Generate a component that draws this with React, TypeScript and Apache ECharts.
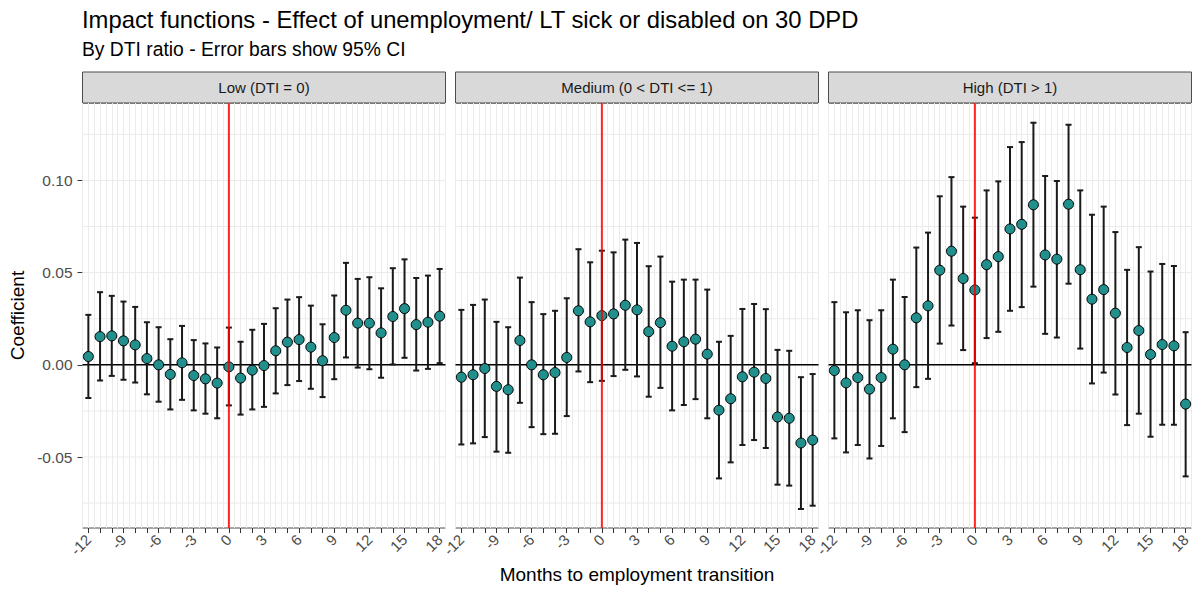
import React, { useEffect, useRef } from 'react';
import * as echarts from 'echarts';

// ---- data ----
const months = [-12, -11, -10, -9, -8, -7, -6, -5, -4, -3, -2, -1, 0, 1, 2, 3, 4, 5, 6, 7, 8, 9, 10, 11, 12, 13, 14, 15, 16, 17, 18];
const monthLabels = [-12, -9, -6, -3, 0, 3, 6, 9, 12, 15, 18];
const yLabels = [-0.05, 0, 0.05, 0.1];
const yGridBreaks = [-0.075, -0.05, -0.025, 0, 0.025, 0.05, 0.075, 0.1, 0.125];
const zeroLine = [0];
const eventMonth = [0];
const panelNames = ['Low (DTI = 0)', 'Medium (0 < DTI <= 1)', 'High (DTI > 1)'];

const lowEst = [0.0045, 0.0153, 0.0157, 0.013, 0.0108, 0.0034, 0.0, -0.0052, 0.0011, -0.0058, -0.0076, -0.0099, -0.0011, -0.0072, -0.0029, -0.0004, 0.0076, 0.0123, 0.0137, 0.0096, 0.0022, 0.0148, 0.0296, 0.0226, 0.0226, 0.0173, 0.0262, 0.0305, 0.0218, 0.0231, 0.0264];
const lowLo = [-0.018, -0.0085, -0.006, -0.0081, -0.0096, -0.016, -0.02, -0.0242, -0.019, -0.0247, -0.0265, -0.029, -0.022, -0.027, -0.0242, -0.0228, -0.0155, -0.011, -0.0088, -0.013, -0.0175, -0.0078, 0.004, -0.0015, -0.0024, -0.007, 0.0002, 0.0038, -0.0031, -0.0022, 0.0009];
const lowHi = [0.0271, 0.0394, 0.0374, 0.0343, 0.0314, 0.0231, 0.0204, 0.0139, 0.0211, 0.0134, 0.0116, 0.0094, 0.0202, 0.0125, 0.019, 0.0222, 0.0307, 0.0354, 0.0367, 0.0321, 0.022, 0.0376, 0.0553, 0.0466, 0.0475, 0.0415, 0.0524, 0.0572, 0.0471, 0.0484, 0.052];

const medEst = [-0.0067, -0.0054, -0.002, -0.0117, -0.0135, 0.0132, 0.0, -0.0054, -0.0042, 0.004, 0.0293, 0.0233, 0.0267, 0.0276, 0.0323, 0.0298, 0.018, 0.0229, 0.0101, 0.0125, 0.0139, 0.0058, -0.0246, -0.0184, -0.0065, -0.004, -0.0074, -0.0283, -0.029, -0.0424, -0.0408];
const medLo = [-0.0432, -0.0426, -0.0392, -0.0471, -0.0477, -0.0206, -0.0338, -0.0376, -0.0374, -0.0278, -0.0036, -0.0094, -0.0087, -0.0061, -0.0027, -0.0063, -0.0173, -0.0125, -0.0247, -0.0218, -0.0186, -0.029, -0.0616, -0.0529, -0.0435, -0.0408, -0.0451, -0.065, -0.0655, -0.0782, -0.0764];
const medHi = [0.0298, 0.0325, 0.0354, 0.0233, 0.0204, 0.0473, 0.034, 0.0275, 0.0293, 0.0361, 0.0627, 0.0556, 0.0619, 0.061, 0.0679, 0.0661, 0.0535, 0.0587, 0.0451, 0.0462, 0.0462, 0.0408, 0.0125, 0.0157, 0.0303, 0.033, 0.0302, 0.0081, 0.0076, -0.0067, -0.005];

const highEst = [-0.0031, -0.0098, -0.0069, -0.0132, -0.0069, 0.0085, 0.0, 0.0255, 0.032, 0.0513, 0.0616, 0.0468, 0.0406, 0.0543, 0.0587, 0.0737, 0.0762, 0.0868, 0.0596, 0.0573, 0.0871, 0.0516, 0.0356, 0.0408, 0.028, 0.0094, 0.0186, 0.0056, 0.011, 0.0103, -0.0213];
const highLo = [-0.0399, -0.0475, -0.0435, -0.0508, -0.044, -0.029, -0.0365, -0.0121, -0.0076, 0.0115, 0.0213, 0.008, 0.0009, 0.0145, 0.0179, 0.0293, 0.0313, 0.0424, 0.0168, 0.0148, 0.044, 0.0088, -0.0101, -0.0042, -0.0161, -0.0327, -0.0265, -0.039, -0.0325, -0.0325, -0.0605];
const highHi = [0.034, 0.0285, 0.0296, 0.0242, 0.0296, 0.0462, 0.0368, 0.0636, 0.0717, 0.0914, 0.1018, 0.0858, 0.0798, 0.0946, 0.0995, 0.1181, 0.1208, 0.1313, 0.1024, 0.0997, 0.1302, 0.0946, 0.0814, 0.0858, 0.072, 0.0515, 0.0638, 0.0506, 0.0547, 0.0536, 0.0177];

const panelData = [
  { est: lowEst, lo: lowLo, hi: lowHi },
  { est: medEst, lo: medLo, hi: medHi },
  { est: highEst, lo: highLo, hi: highHi },
];

// ---- layout / style ----
const FONT = "'Liberation Sans', Arial, sans-serif";
const PANEL_LEFT = 82.5;
const PANEL_STEP = 373;
const PANEL_W = 363;
const PANEL_TOP = 103;
const PANEL_H = 425;
const STRIP_TOP = 72;
const STRIP_H = 31;
const TEAL = '#21908C';

export default function App() {
  const ref = useRef<HTMLDivElement>(null);

  useEffect(() => {
    if (!ref.current) return;
    const chart = echarts.init(ref.current, undefined, { renderer: 'svg' });

    const grids: any[] = [];
    const xAxes: any[] = [];
    const yAxes: any[] = [];
    const series: any[] = [];
    const graphics: any[] = [];

    panelNames.forEach((name, i) => {
      const left = PANEL_LEFT + i * PANEL_STEP;
      grids.push({
        left,
        top: PANEL_TOP,
        width: PANEL_W,
        height: PANEL_H,
        show: true,
        backgroundColor: '#fff',
        borderColor: '#4d4d4d',
        borderWidth: 1,
        containLabel: false,
        outerBoundsMode: 'none',
      });
      // main x axis
      xAxes.push({
        type: 'value',
        gridIndex: i,
        min: -12.5,
        max: 18.5,
        position: 'bottom',
        axisLine: { show: false, onZero: false },
        axisTick: { show: true, customValues: months, length: 5, lineStyle: { color: '#333', width: 1 } },
        axisLabel: {
          show: true,
          customValues: monthLabels,
          rotate: 45,
          fontSize: 15,
          color: '#4D4D4D',
          fontFamily: FONT,
          margin: 9,
          formatter: (v: number) => String(v),
        },
        splitLine: { show: false },
        name: i === 1 ? 'Months to employment transition' : '',
        nameLocation: 'middle',
        nameGap: 36,
        nameTextStyle: { fontSize: 19, color: '#000', fontFamily: FONT },
      });
      // helper x axis for grid lines
      xAxes.push({
        type: 'value',
        gridIndex: i,
        min: -12.5,
        max: 18.5,
        interval: 0.5,
        position: 'top',
        axisLine: { show: false, onZero: false },
        axisTick: { show: false },
        axisLabel: { show: false },
        splitLine: { show: true, lineStyle: { color: '#EBEBEB', width: 1 } },
      });
      yAxes.push({
        type: 'value',
        gridIndex: i,
        min: -0.0885,
        max: 0.142,
        axisLine: { show: false, onZero: false },
        axisTick: { show: i === 0, customValues: yLabels, length: 5, lineStyle: { color: '#333', width: 1 } },
        axisLabel: {
          show: i === 0,
          customValues: yLabels,
          fontSize: 15.5,
          color: '#4D4D4D',
          fontFamily: FONT,
          margin: 10,
          formatter: (v: number) => v.toFixed(2),
        },
        splitLine: { show: false },
        name: i === 0 ? 'Coefficient' : '',
        nameLocation: 'middle',
        nameGap: 56,
        nameRotate: 90,
        nameTextStyle: { fontSize: 19, color: '#000', fontFamily: FONT },
      });

      const xi = i * 2;
      const d = panelData[i];

      series.push({
        type: 'custom',
        xAxisIndex: xi,
        yAxisIndex: i,
        silent: true,
        z: 1,
        data: yGridBreaks.map((v) => [0, v]),
        renderItem: (params: any, api: any) => {
          const cs = params.coordSys;
          const y = api.coord([0, api.value(1)])[1];
          return {
            type: 'line',
            shape: { x1: cs.x, y1: y, x2: cs.x + cs.width, y2: y },
            style: { stroke: '#EBEBEB', lineWidth: 1 },
          };
        },
      });

      series.push({
        type: 'custom',
        xAxisIndex: xi,
        yAxisIndex: i,
        silent: true,
        z: 2,
        data: zeroLine.map((v) => [0, v]),
        renderItem: (params: any, api: any) => {
          const cs = params.coordSys;
          const y = api.coord([0, api.value(1)])[1];
          return {
            type: 'line',
            shape: { x1: cs.x, y1: y, x2: cs.x + cs.width, y2: y },
            style: { stroke: '#000', lineWidth: 1.4 },
          };
        },
      });

      series.push({
        type: 'custom',
        xAxisIndex: xi,
        yAxisIndex: i,
        silent: true,
        z: 3,
        data: months.map((m, k) => [m, d.lo[k], d.hi[k]]),
        renderItem: (params: any, api: any) => {
          const x = api.value(0);
          const p1 = api.coord([x, api.value(1)]);
          const p2 = api.coord([x, api.value(2)]);
          const hw = 3;
          const st = { stroke: '#1a1a1a', lineWidth: 2 };
          return {
            type: 'group',
            children: [
              { type: 'line', shape: { x1: p1[0], y1: p1[1], x2: p2[0], y2: p2[1] }, style: st },
              { type: 'line', shape: { x1: p1[0] - hw, y1: p1[1], x2: p1[0] + hw, y2: p1[1] }, style: st },
              { type: 'line', shape: { x1: p2[0] - hw, y1: p2[1], x2: p2[0] + hw, y2: p2[1] }, style: st },
            ],
          };
        },
      });

      series.push({
        type: 'scatter',
        xAxisIndex: xi,
        yAxisIndex: i,
        z: 4,
        symbol: 'circle',
        symbolSize: 10,
        itemStyle: { color: TEAL, borderColor: '#000', borderWidth: 1, opacity: 1 },
        data: months.map((m, k) => [m, d.est[k]]),
      });

      series.push({
        type: 'custom',
        xAxisIndex: xi,
        yAxisIndex: i,
        silent: true,
        z: 5,
        data: eventMonth.map((m) => [m, 0]),
        renderItem: (params: any, api: any) => {
          const cs = params.coordSys;
          const x = api.coord([api.value(0), 0])[0];
          return {
            type: 'line',
            shape: { x1: x, y1: cs.y, x2: x, y2: cs.y + cs.height },
            style: { stroke: 'rgba(255,0,0,0.85)', lineWidth: 2 },
          };
        },
      });

      graphics.push({
        type: 'rect',
        shape: { x: left, y: STRIP_TOP, width: PANEL_W, height: STRIP_H },
        style: { fill: '#D9D9D9', stroke: '#4d4d4d', lineWidth: 1 },
        silent: true,
      });
      graphics.push({
        type: 'text',
        x: left + PANEL_W / 2,
        y: STRIP_TOP + STRIP_H / 2,
        style: {
          text: name,
          fill: '#1A1A1A',
          fontSize: 15,
          fontFamily: FONT,
          align: 'center',
          verticalAlign: 'middle',
        },
        silent: true,
      });
    });

    graphics.push({
      type: 'text',
      x: 82,
      y: 19,
      style: {
        text: 'Impact functions - Effect of unemployment/ LT sick or disabled on 30 DPD',
        fill: '#000',
        fontSize: 23.8,
        fontFamily: FONT,
        align: 'left',
        verticalAlign: 'middle',
      },
      silent: true,
    });
    graphics.push({
      type: 'text',
      x: 82,
      y: 49,
      style: {
        text: 'By DTI ratio - Error bars show 95% CI',
        fill: '#000',
        fontSize: 19.3,
        fontFamily: FONT,
        align: 'left',
        verticalAlign: 'middle',
      },
      silent: true,
    });

    chart.setOption({
      animation: false,
      backgroundColor: '#fff',
      textStyle: { fontFamily: FONT },
      grid: grids,
      xAxis: xAxes,
      yAxis: yAxes,
      series,
      graphic: graphics,
    });

    return () => chart.dispose();
  }, []);

  return (
    <div
      ref={ref}
      style={{ position: 'fixed', left: 0, top: 0, width: 1195, height: 589, background: '#fff' }}
    />
  );
}
